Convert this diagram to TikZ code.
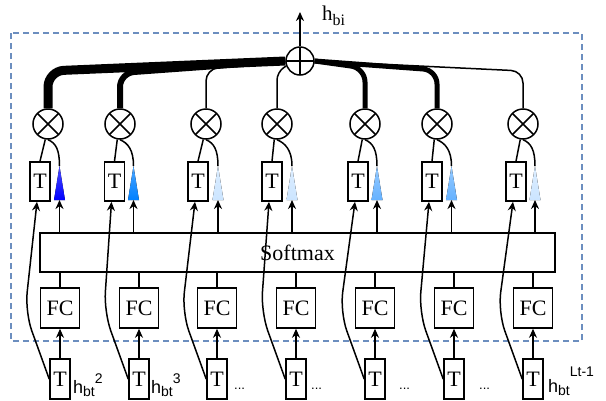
\documentclass[tikz,border=0pt]{standalone}
\usepackage{fontspec}
\setmainfont{Liberation Serif}
\newfontfamily\labfont{Liberation Sans}
\usetikzlibrary{arrows.meta}
\pgfdeclarelayer{bg}
\pgfsetlayers{bg,main}
\definecolor{dashblue}{RGB}{108,142,191}
\definecolor{triA}{RGB}{0,0,255}
\definecolor{triB}{RGB}{0,128,255}
\definecolor{triC}{RGB}{204,229,255}
\definecolor{triD}{RGB}{102,178,255}
\begin{document}
\begin{tikzpicture}[x=1pt,y=-1pt,
  ln/.style={line width=1.5pt},
  arr/.style={line width=1.5pt, -{Stealth[length=9pt,width=8pt]}},
  box/.style={draw, line width=1.6pt, fill=white, inner sep=0pt, font=\fontsize{22}{22}\selectfont},
  tbox/.style={box, minimum width=20pt, minimum height=39pt},
  fcbox/.style={box, minimum width=39pt, minimum height=40pt},
  mul/.style={draw, circle, line width=1.5pt, fill=white, minimum size=30pt, inner sep=0pt,
    path picture={\draw[line width=1.5pt] (path picture bounding box.center) ++(-12,-12) -- ++(24,24)
       (path picture bounding box.center) ++(-12,12) -- ++(24,-24);}},
  add/.style={draw, circle, line width=1.5pt, fill=white, minimum size=28pt, inner sep=0pt,
    path picture={\draw[line width=1.5pt] (path picture bounding box.center) ++(-15,0) -- ++(30,0)
       (path picture bounding box.center) ++(0,-15) -- ++(0,30);}},
  lab/.style={font=\labfont\fontsize{18}{18}\selectfont, inner sep=0pt, anchor=base west},
  dots/.style={font=\labfont\fontsize{13}{13}\selectfont, inner sep=0pt, anchor=base west},
  dashbox/.style={draw=dashblue, line width=1.3pt, dash pattern=on 6pt off 4pt}
]
\useasboundingbox (0,0) rectangle (606,400);
\draw[dashbox] (11,33) rectangle (582,341);

% sum node and output
\node[add] (s) at (300,61) {};
\coordinate (out) at (300,12);
\draw[arr] (s.north) -- (out);
\node[anchor=base west, inner sep=0pt, font=\fontsize{21}{21}\selectfont] (hbi) at (322,20) {h\raisebox{-5pt}{\fontsize{16}{16}\selectfont bi}};

% softmax
\node[box, minimum width=515pt, minimum height=39pt] (sm) at (297.5,252.5) {Softmax};

\foreach \i/\xt/\xa/\xo/\xf/\c in {1/40/59.5/48/60/triA, 2/114.5/133.5/120/139/triB,
  3/198/218/206/217/triC, 4/272/292/277/296/triC, 5/358/377/365/375/triD,
  6/432/451.5/437/454/triD, 7/516/535/523/533/triC}{
  \node[tbox] (tt\i) at (\xt,181.5) {T};
  \coordinate (ta\i) at (\xa,166);
  \coordinate (tb\i) at (\xa,200);
  \fill[top color=\c!70!white, bottom color=\c] (\xa-5.5,200) -- (ta\i) -- (\xa+5.5,200) -- cycle;
  \node[mul] (o\i) at (\xo,124) {};
  \node[fcbox] (fc\i) at (\xf,308) {FC};
  \node[tbox, minimum height=40pt] (b\i) at (\xf,379) {T};
  \draw[ln] (o\i.260) -- (tt\i.north);
  \draw[ln] (o\i.south) .. controls (\xo+8,143) and (\xa,150) .. (ta\i);
  \draw[arr] (tb\i |- sm.north) -- (tb\i);
  \draw[ln] (fc\i.north) -- (fc\i.north |- sm.south);
  \draw[arr] (b\i.north) -- (fc\i.south);
  \draw[arr, rounded corners=20pt] (b\i.west) -- (\xf-35,312) -- ([xshift=-3pt]tt\i.south);
}

% weighted lines to sum
\begin{pgfonlayer}{bg}
\draw[line width=9pt, rounded corners=16pt] (o1.north) -- (48,71) -- (s.west);
\draw[line width=6pt, rounded corners=14pt] (o2.north) -- (120,73) -- (s.west);
\draw[ln, rounded corners=12pt] (o3.north) -- (206,69) -- (s.west);
\draw[ln, rounded corners=8pt] (o4.north) -- (277,72) -- (s.200);
\draw[line width=5pt, rounded corners=14pt] (o5.north) -- (365,68) -- (s.east);
\draw[line width=5pt, rounded corners=14pt] (o6.north) -- (437,70) -- (s.east);
\draw[ln, rounded corners=12pt] (o7.north) -- (523,71) -- (s.east);
\end{pgfonlayer}

% bottom labels
\node[lab] (l1) at (73,393) {h\raisebox{-3pt}{\fontsize{14}{14}\selectfont bt}\raisebox{10pt}{\fontsize{14}{14}\selectfont 2}};
\node[lab] (l2) at (151,393) {h\raisebox{-3pt}{\fontsize{14}{14}\selectfont bt}\raisebox{10pt}{\fontsize{14}{14}\selectfont 3}};
\node[dots] (d3) at (234,389) {...};
\node[dots] (d4) at (311,389) {...};
\node[dots] (d5) at (399,389) {...};
\node[dots] (d6) at (479,389) {...};
\node[lab] (l7) at (548,392) {h\raisebox{-3pt}{\fontsize{14}{14}\selectfont bt}\raisebox{16pt}{\fontsize{14}{14}\selectfont Lt-1}};
\end{tikzpicture}
\end{document}
